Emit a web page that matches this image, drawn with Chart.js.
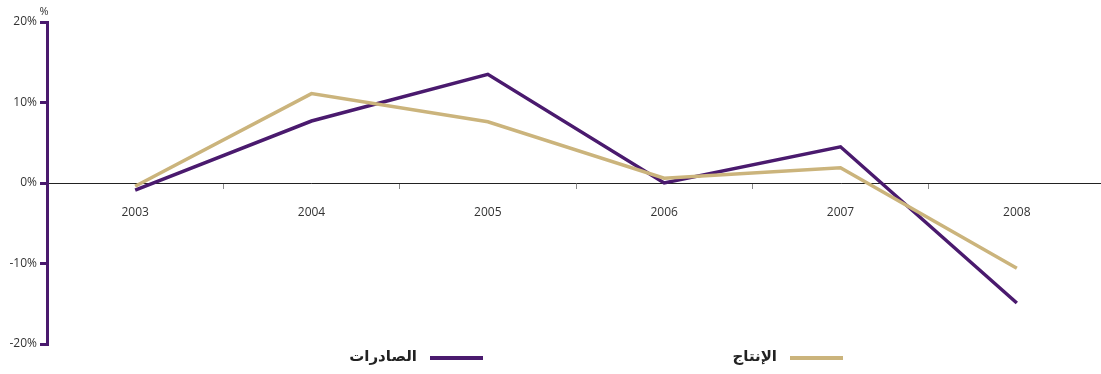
<!DOCTYPE html>
<html>
<head>
<meta charset="utf-8">
<script src="https://cdn.jsdelivr.net/npm/chart.js@4"></script>
<style>
  html, body { margin: 0; padding: 0; background: #fff; overflow: hidden; }
  #wrap { width: 1105px; height: 374px; position: relative; }
</style>
</head>
<body>
<div id="wrap"><canvas id="chart"></canvas></div>
<script>
// ─── Data ─────────────────────────────────────
const years = ['2003', '2004', '2005', '2006', '2007', '2008'];
const productionPct = [-0.4, 11.1, 7.6, 0.6, 1.9, -10.6];
const exportsPct    = [-0.9, 7.7, 13.5, 0.0, 4.5, -14.9];
const seriesNames   = ['الإنتاج', 'الصادرات'];
const yTicks        = [-20, -10, 0, 10, 20];
const yUnit         = '%';

const PURPLE = '#4a1a6e';
const TAN    = '#cbb47c';
const FONT   = '"Open Sans", "DejaVu Sans", sans-serif';

// legend + unit label drawn on the canvas
const extras = {
  id: 'extras',
  afterDraw(chart) {
    const { ctx, scales: { y } } = chart;
    ctx.save();
    ctx.fillStyle = '#333';
    ctx.font = '11px ' + FONT;
    ctx.textAlign = 'center';
    ctx.textBaseline = 'middle';
    ctx.fillText(yUnit, y.right - 3, 12);

    const slots = [790, 430];  // left edge of each swatch
    chart.data.datasets.forEach((ds, i) => {
      const x = slots[i];
      ctx.fillStyle = ds.borderColor;
      ctx.fillRect(x, 356, 53, 4);
      ctx.fillStyle = '#222';
      ctx.font = 'bold 15px "DejaVu Sans", sans-serif';
      ctx.textAlign = 'right';
      ctx.direction = 'rtl';
      ctx.fillText(ds.label, x - 13, 357);
    });
    ctx.restore();
  },
};

new Chart(document.getElementById('chart'), {
  type: 'line',
  data: {
    labels: years,
    datasets: [
      { label: seriesNames[0], data: productionPct, borderColor: TAN,    borderWidth: 3.5, pointRadius: 0, tension: 0 },
      { label: seriesNames[1], data: exportsPct,    borderColor: PURPLE, borderWidth: 3.5, pointRadius: 0, tension: 0 },
    ],
  },
  options: {
    responsive: true,
    maintainAspectRatio: false,
    animation: false,
    layout: { padding: { top: 22, bottom: 30, left: 0, right: 0 } },
    plugins: { legend: { display: false }, tooltip: { enabled: false } },
    scales: {
      x: {
        position: { y: 0 },
        offset: true,
        grid: { offset: true, drawOnChartArea: false, drawTicks: true, tickLength: 5, tickColor: '#888', lineWidth: 1 },
        border: { display: true, color: '#222', width: 1 },
        ticks: { color: '#333', font: { size: 12, family: FONT }, padding: 17, maxRotation: 0 },
      },
      y: {
        min: yTicks[0],
        max: yTicks[yTicks.length - 1],
        afterBuildTicks(s) { s.ticks = yTicks.map(v => ({ value: v })); },
        afterFit(s) { s.width = 47; },
        grid: { drawOnChartArea: false, drawTicks: true, tickLength: 7, tickColor: PURPLE, lineWidth: 3 },
        border: { display: true, color: PURPLE, width: 3 },
        ticks: { color: '#333', font: { size: 12, family: FONT }, padding: 3, callback: v => v + '%' },
      },
    },
  },
  plugins: [extras],
});
</script>
</body>
</html>
